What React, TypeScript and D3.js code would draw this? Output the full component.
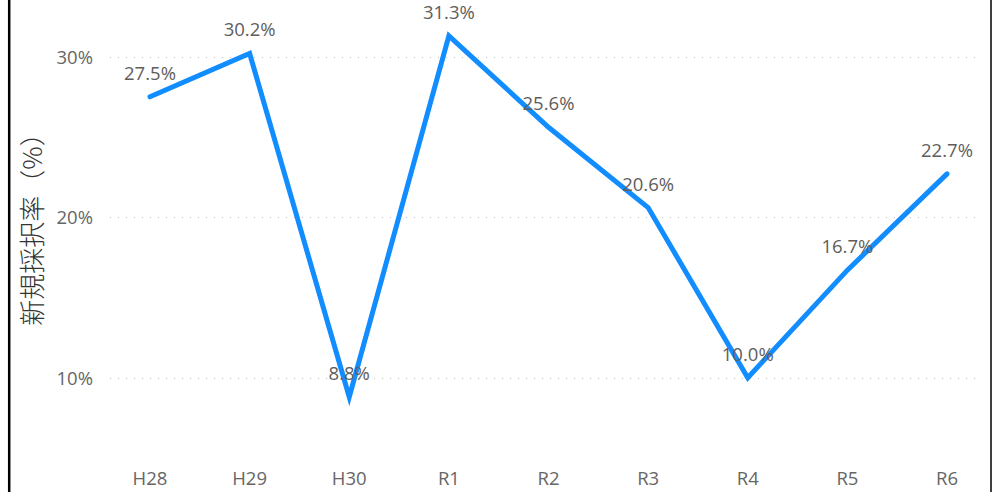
import React from 'react';
import * as d3 from 'd3';

// fiscal years on the x axis
const years = ['H28', 'H29', 'H30', 'R1', 'R2', 'R3', 'R4', 'R5', 'R6'];
// new adoption rate (%)
const rates = [27.5, 30.2, 8.8, 31.3, 25.6, 20.6, 10.0, 16.7, 22.7];
const yTicks = [10, 20, 30];
const yTitle = '新規採択率（%）';

const W = 1000, H = 492;

const App = () => {
    const xScale = d3.scalePoint<string>().domain(years).range([150, 947]);
    const yScale = d3.scaleLinear().domain([5, 33]).range([458, 8.5]);

    const line = d3.line<number>()
        .x((d, i) => xScale(years[i]) as number)
        .y(d => yScale(d));

    const font = '"Open Sans", "Noto Sans", sans-serif';

    return (
        <svg width={W} height={H} style={{position: 'absolute', left: 0, top: 0, background: '#fff'}}>
            {yTicks.map(t => {
                const gy = Math.round(yScale(t)) + 0.5;
                return (
                    <g key={t}>
                        <line x1={110} x2={982} y1={gy} y2={gy}
                            stroke='#bbb' strokeWidth={1} strokeDasharray='1,7' />
                        <text x={93} y={yScale(t) + 7} textAnchor='end' fontFamily={font}
                            fontSize={18.5} fill='#666'>{t}%</text>
                    </g>
                );
            })}
            {years.map(y => (
                <text key={y} x={xScale(y)} y={485} textAnchor='middle' fontFamily={font}
                    fontSize={18.5} fill='#666'>{y}</text>
            ))}
            <text transform={`translate(42, 223) rotate(-90)`} textAnchor='middle'
                fontFamily='"Noto Sans CJK JP", sans-serif' fontWeight={300} fontSize={26}
                fill='#333'>{yTitle}</text>
            <path d={line(rates) || ''} fill='none' stroke='#118DFF' strokeWidth={5}
                strokeLinecap='round' strokeLinejoin='miter' />
            {rates.map((v, i) => (
                <text key={i} x={xScale(years[i])} y={yScale(v) - 17} textAnchor='middle'
                    fontFamily={font} fontSize={18.5} fill='#605E5C'>{v.toFixed(1)}%</text>
            ))}
            <line x1={9.2} x2={9.2} y1={0} y2={H} stroke='#000' strokeWidth={2.5} />
            <line x1={991} x2={991} y1={0} y2={H} stroke='#000' strokeWidth={1.5} />
        </svg>
    );
};

export default App;
